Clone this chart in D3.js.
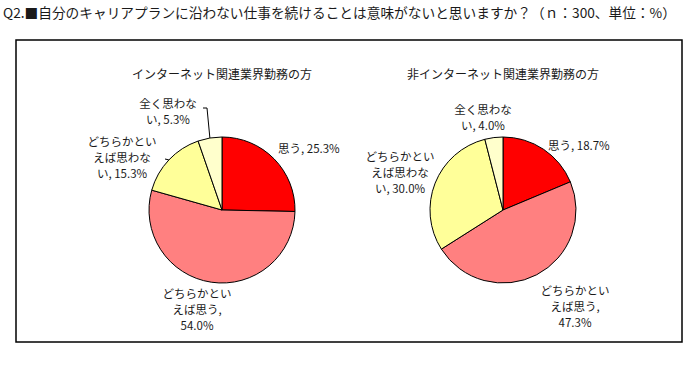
<!DOCTYPE html>
<html>
<head>
<meta charset="utf-8">
<script src="https://cdn.jsdelivr.net/npm/d3@7"></script>
<style>
  body { margin: 0; background: #fff; }
  text { font-family: "Noto Sans CJK JP", sans-serif; fill: #1a1a1a; }
</style>
</head>
<body>
<div id="chart"></div>
<script>
"use strict";

// data
const categories = ["思う", "どちらかといえば思う", "どちらかといえば思わない", "全く思わない"];
const internetValues = [25.3, 54.0, 15.3, 5.3];
const nonInternetValues = [18.7, 47.3, 30.0, 4.0];
const pieTitles = ["インターネット関連業界勤務の方", "非インターネット関連業界勤務の方"];
// label lines as in the picture (Excel wraps them)
const internetLabels = [["思う, 25.3%"], ["どちらかとい", "えば思う,", "54.0%"], ["どちらかとい", "えば思わな", "い, 15.3%"], ["全く思わな", "い, 5.3%"]];
const nonInternetLabels = [["思う, 18.7%"], ["どちらかとい", "えば思う,", "47.3%"], ["どちらかとい", "えば思わな", "い, 30.0%"], ["全く思わな", "い, 4.0%"]];
const headerText = "Q2.■自分のキャリアプランに沿わない仕事を続けることは意味がないと思いますか？（ｎ：300、単位：%）";

const W = 689, H = 392;
const radius = 73;
const colors = d3.scaleOrdinal().domain(categories).range(["#FF0000", "#FF8080", "#FFFF99", "#FFFFCC"]);

// label placement relative to pie centre (dx, dy of first baseline, anchor)
const layouts = [
  {
    cx: 222, cy: 210,
    labelPos: [
      { dx: 56, dy: -57, anchor: "start" },
      { dx: -25, dy: 88, anchor: "middle" },
      { dx: -100, dy: -64, anchor: "middle" },
      { dx: -54, dy: -102.5, anchor: "middle" },
    ],
    leaders: [null, null, { from: [-57, -51] }, { from: [-19, -102], elbow: [-15, -102] }],
  },
  {
    cx: 503, cy: 210,
    labelPos: [
      { dx: 45, dy: -60, anchor: "start" },
      { dx: 72, dy: 84.5, anchor: "middle" },
      { dx: -103, dy: -49, anchor: "middle" },
      { dx: -20, dy: -96, anchor: "middle" },
    ],
    leaders: [null, null, null, null],
  },
];

const svg = d3.select("#chart").append("svg").attr("width", W).attr("height", H);

svg.append("text")
  .attr("x", 3).attr("y", 18)
  .attr("font-size", "13.7px")
  .text(headerText);

svg.append("rect")
  .attr("x", 16).attr("y", 40)
  .attr("width", 666).attr("height", 302)
  .attr("fill", "none").attr("stroke", "#000").attr("stroke-width", 1.5);

const pie = d3.pie().sort(null).value((d) => d.value);
const arc = d3.arc().innerRadius(0).outerRadius(radius);

const drawPie = function (values, labels, title, lay) {
  const g = svg.append("g").attr("transform", `translate(${lay.cx},${lay.cy})`);
  const rows = categories.map((c, i) => ({ cat: c, value: values[i], lines: labels[i] }));
  const arcs = pie(rows);

  g.selectAll("path.slice")
    .data(arcs)
    .enter()
    .append("path")
    .attr("class", "slice")
    .attr("d", arc)
    .attr("fill", (d) => colors(d.data.cat))
    .attr("stroke", "#000")
    .attr("stroke-width", 1);

  g.append("text")
    .attr("x", 0).attr("y", -131)
    .attr("text-anchor", "middle")
    .attr("font-size", "12px")
    .text(title);

  // leader lines: from label to the slice edge at its mid angle
  arcs.forEach((d, i) => {
    const ld = lay.leaders[i];
    if (!ld) return;
    const mid = (d.startAngle + d.endAngle) / 2;
    const ex = Math.sin(mid) * radius, ey = -Math.cos(mid) * radius;
    const pts = [ld.from];
    if (ld.elbow) pts.push(ld.elbow);
    pts.push([ex, ey]);
    g.append("path")
      .attr("d", d3.line()(pts))
      .attr("fill", "none").attr("stroke", "#000").attr("stroke-width", 1);
  });

  const lbl = g.selectAll("text.lbl")
    .data(arcs)
    .enter()
    .append("text")
    .attr("class", "lbl")
    .attr("font-size", "11.5px")
    .attr("text-anchor", (d, i) => lay.labelPos[i].anchor)
    .attr("x", (d, i) => lay.labelPos[i].dx)
    .attr("y", (d, i) => lay.labelPos[i].dy);

  lbl.each(function (d, i) {
    const t = d3.select(this);
    d.data.lines.forEach((line, k) => {
      t.append("tspan")
        .attr("x", lay.labelPos[i].dx)
        .attr("dy", k === 0 ? 0 : 16)
        .text(line);
    });
  });
};

drawPie(internetValues, internetLabels, pieTitles[0], layouts[0]);
drawPie(nonInternetValues, nonInternetLabels, pieTitles[1], layouts[1]);
</script>
</body>
</html>
